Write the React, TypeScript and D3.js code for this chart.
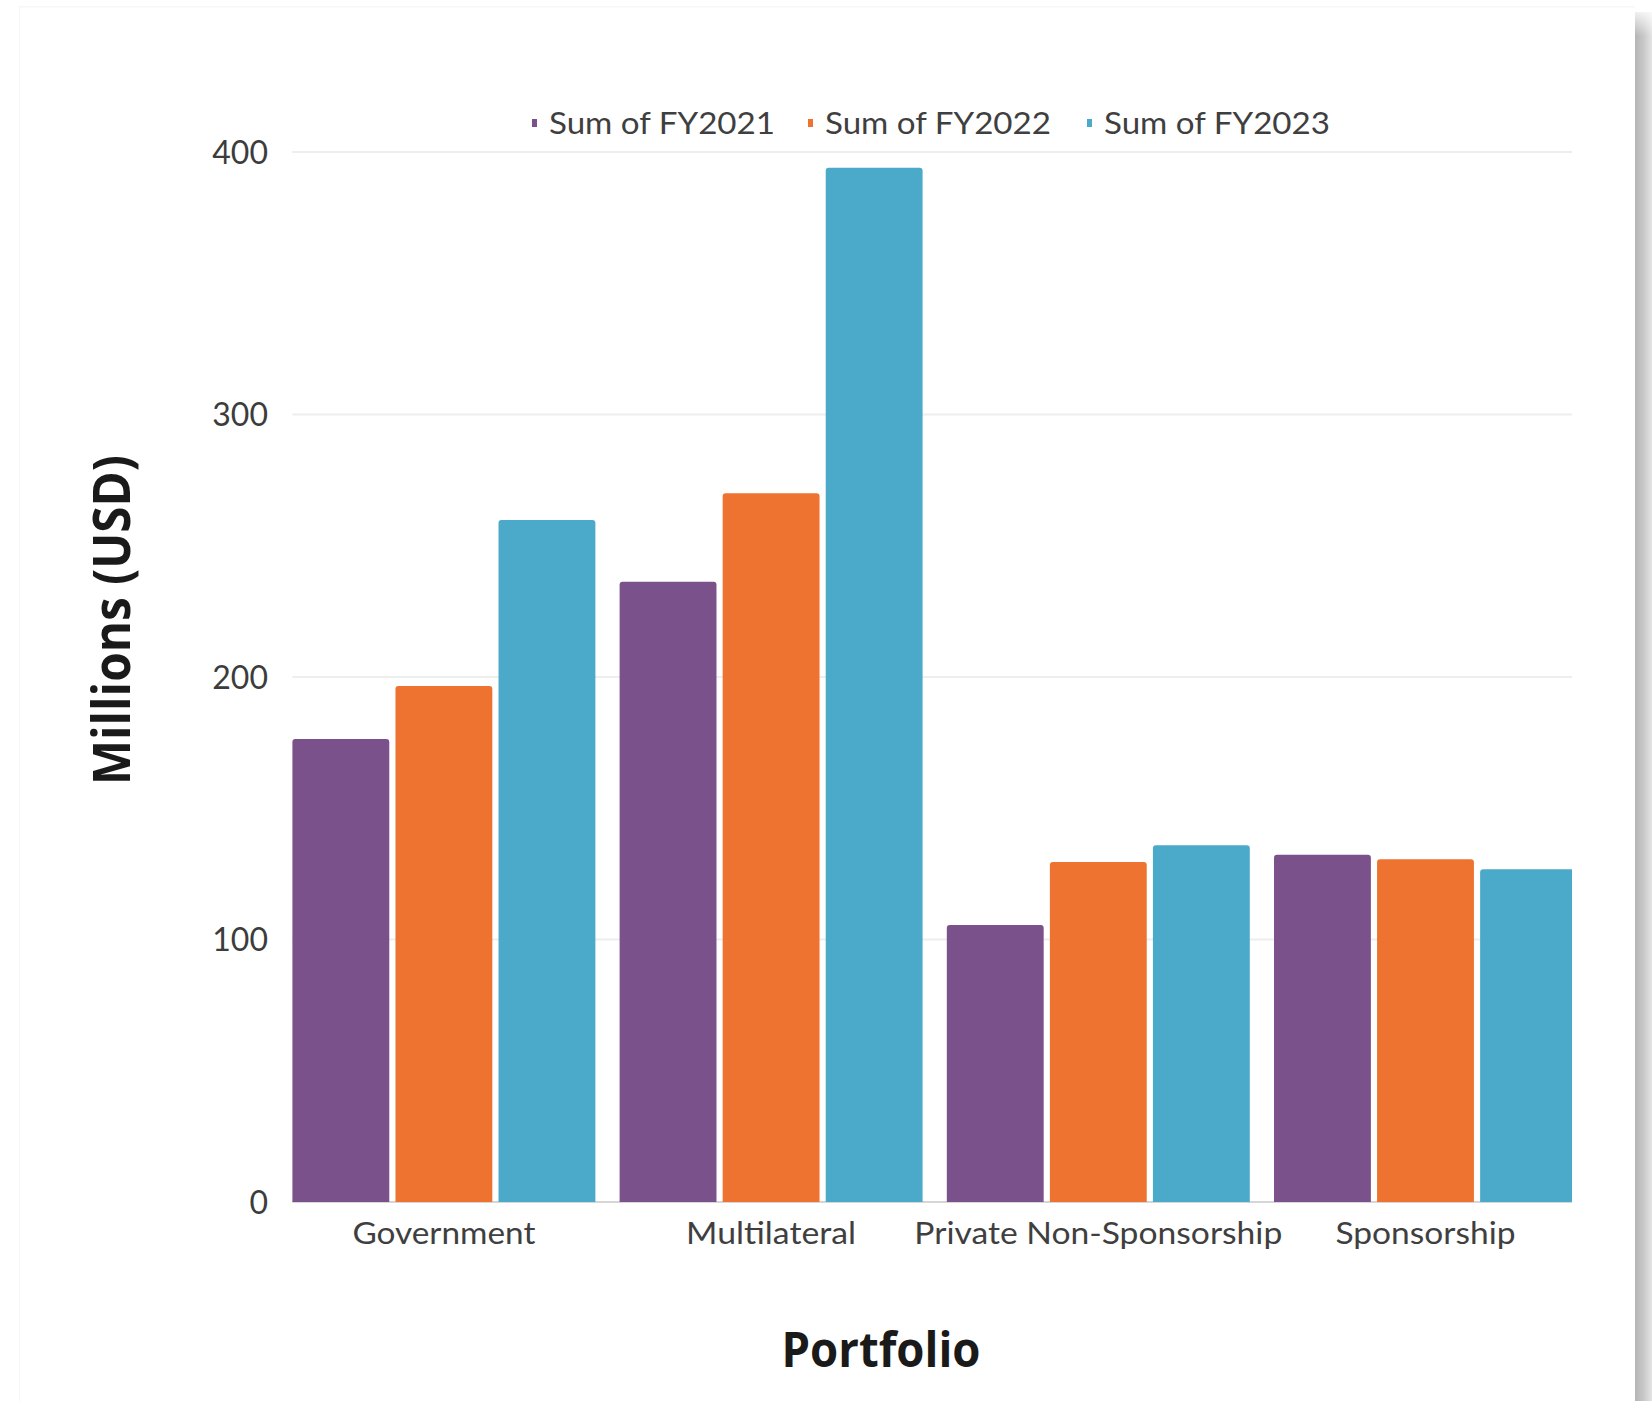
import React from "react";
import * as d3 from "d3";

const categories = ["Government", "Multilateral", "Private Non-Sponsorship", "Sponsorship"];
const seriesNames = ["Sum of FY2021", "Sum of FY2022", "Sum of FY2023"];
const fy2021 = [176.4, 236.3, 105.5, 132.3];
const fy2022 = [196.6, 270.0, 129.5, 130.6];
const fy2023 = [259.8, 394.0, 135.9, 126.8];
const yTicks = [0, 100, 200, 300, 400];
const seriesColors = ["#7B518B", "#EE7330", "#4BA9C9"];

const W = 1652;
const H = 1401;
const plot = { left: 292.4, right: 1572, top: 152, bottom: 1202 };

const catLabelWidth: Record<string, number> = {
  Government: 183,
  Multilateral: 170,
  "Private Non-Sponsorship": 368,
  Sponsorship: 180,
};

function topRoundedBar(x: number, y: number, w: number, h: number, r: number) {
  const rr = Math.min(r, h);
  return `M${x},${y + h}V${y + rr}Q${x},${y} ${x + rr},${y}H${x + w - rr}Q${x + w},${y} ${x + w},${y + rr}V${y + h}Z`;
}

export default function App() {
  const series = [fy2021, fy2022, fy2023];
  const x0 = d3
    .scaleBand<string>()
    .domain(categories)
    .range([plot.left, 1577])
    .paddingInner(0.074)
    .paddingOuter(0);
  const x1 = d3
    .scaleBand<string>()
    .domain(seriesNames)
    .range([0, x0.bandwidth()])
    .paddingInner(0.06)
    .paddingOuter(0);
  const y = d3.scaleLinear().domain([0, 400]).range([plot.bottom, plot.top]);

  const legendX = [532, 808, 1087];

  return (
    <svg
      width={W}
      height={H}
      style={{ position: "absolute", left: 0, top: 0, display: "block" }}
      xmlns="http://www.w3.org/2000/svg"
    >
      <defs>
        <linearGradient id="shadowR" x1="0" x2="1" y1="0" y2="0">
          <stop offset="0" stopColor="#b4b4b4" />
          <stop offset="0.5" stopColor="#c8c8c8" />
          <stop offset="1" stopColor="#e4e4e4" />
        </linearGradient>
        <linearGradient id="shadowTop" x1="0" x2="0" y1="0" y2="1">
          <stop offset="0" stopColor="#ffffff" />
          <stop offset="1" stopColor="#ffffff" stopOpacity="0" />
        </linearGradient>
        <clipPath id="plotClip">
          <rect x={plot.left - 2} y={0} width={plot.right - plot.left + 2} height={H} />
        </clipPath>
      </defs>
      <rect x={0} y={0} width={W} height={H} fill="#ffffff" />
      {/* card edges */}
      <rect x={19} y={6} width={1617} height={H} fill="#f6f6f6" />
      <rect x={1635} y={12} width={17} height={H} fill="url(#shadowR)" />
      <rect x={1635} y={6} width={17} height={30} fill="url(#shadowTop)" />
      <rect x={20} y={7.5} width={1615} height={H} fill="#ffffff" />

      {/* gridlines */}
      {yTicks.map((t) => (
        <line
          key={t}
          x1={plot.left}
          x2={plot.right}
          y1={y(t)}
          y2={y(t)}
          stroke={t === 0 ? "#d6d6d6" : "#eeeeee"}
          strokeWidth={2}
        />
      ))}
      {yTicks.map((t) => (
        <text
          key={"t" + t}
          x={268}
          y={y(t)}
          dy="0.36em"
          textAnchor="end"
          fontFamily="Lato"
          fontSize={32}
          fill="#3c3c3c"
        >
          {t}
        </text>
      ))}

      {/* bars */}
      <g clipPath="url(#plotClip)">
        {categories.map((c, ci) => (
          <g key={c}>
            {seriesNames.map((s, si) => {
              const v = series[si][ci];
              const bx = (x0(c) as number) + (x1(s) as number);
              const by = y(v);
              return (
                <path
                  key={s}
                  d={topRoundedBar(bx, by, x1.bandwidth(), y(0) - by, 3)}
                  fill={seriesColors[si]}
                />
              );
            })}
          </g>
        ))}
      </g>

      {/* category labels */}
      {categories.map((c) => (
        <text
          key={"c" + c}
          x={(x0(c) as number) + x0.bandwidth() / 2}
          y={1244}
          textAnchor="middle"
          fontFamily="Lato"
          fontSize={30}
          fill="#3f3f3f"
          textLength={catLabelWidth[c]}
          lengthAdjust="spacingAndGlyphs"
        >
          {c}
        </text>
      ))}

      {/* legend */}
      {seriesNames.map((s, i) => (
        <g key={"l" + s}>
          <rect x={legendX[i]} y={119} width={5} height={8} fill={seriesColors[i]} />
          <text
            x={legendX[i] + 17}
            y={133.5}
            fontFamily="Lato"
            fontSize={30}
            fill="#3f3f3f"
            textLength={226}
            lengthAdjust="spacingAndGlyphs"
          >
            {s}
          </text>
        </g>
      ))}

      {/* axis titles */}
      <text
        transform={`translate(130,${(455 + 785) / 2}) rotate(-90)`}
        textAnchor="middle"
        fontFamily="Open Sans"
        fontWeight={700}
        fontSize={52}
        fill="#1a1a1a"
        textLength={330}
        lengthAdjust="spacingAndGlyphs"
      >
        Millions (USD)
      </text>
      <text
        x={881}
        y={1367}
        textAnchor="middle"
        fontFamily="Open Sans"
        fontWeight={700}
        fontSize={48}
        fill="#1a1a1a"
        textLength={199}
        lengthAdjust="spacingAndGlyphs"
      >
        Portfolio
      </text>
    </svg>
  );
}
